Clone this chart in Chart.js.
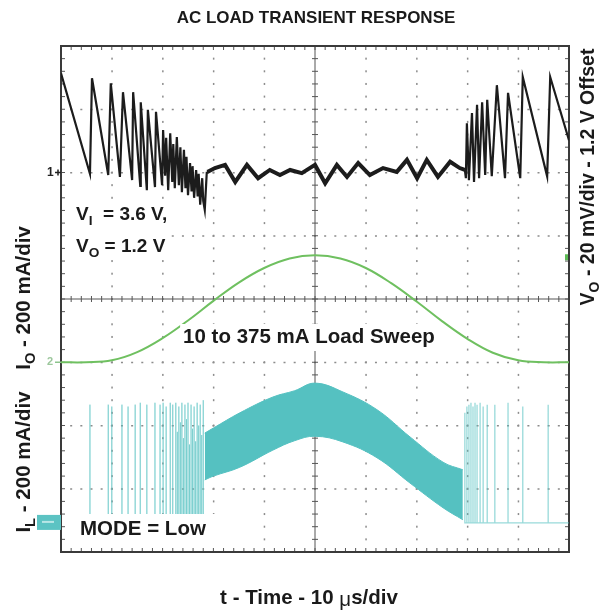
<!DOCTYPE html>
<html>
<head>
<meta charset="utf-8">
<script src="https://cdn.jsdelivr.net/npm/chart.js@4/dist/chart.umd.min.js"></script>
<style>
  body { margin: 0; background: #fff; }
  #caixa { width: 604px; height: 615px; }
</style>
</head>
<body>
<div id="caixa"><canvas id="ac_load_transient"></canvas></div>
<script>
// tudo em divisoes da tela do osciloscopio (10 x 8 div)
const div_x = [0, 1, 2, 3, 4, 5, 6, 7, 8, 9, 10];
const div_y = [0, 1, 2, 3, 4, 5, 6, 7, 8];

// canal 1: VO (preto)
const vo_x = [0, 0.57, 0.61, 0.93, 0.98, 1.16, 1.22, 1.40, 1.42, 1.56, 1.57, 1.69, 1.71, 1.85, 1.87, 1.99,
  2.01, 2.05, 2.07, 2.11, 2.15, 2.19, 2.21, 2.24, 2.28, 2.32, 2.35, 2.38, 2.42, 2.45, 2.47, 2.50, 2.54, 2.57, 2.59,
  2.62, 2.66, 2.69, 2.71, 2.74, 2.78, 2.80, 2.83, 2.87,
  2.89, 3.03, 3.23, 3.43, 3.66, 3.88, 4.11, 4.31, 4.51,
  4.74, 5.0, 5.20, 5.43, 5.63, 5.85, 6.08, 6.34, 6.61, 6.81, 7.01, 7.20, 7.42, 7.66, 7.85, 7.95, 7.97, 7.99, 8.03, 8.09,
  8.13, 8.19, 8.23, 8.29, 8.35, 8.39, 8.48, 8.58, 8.74, 8.80, 9.04, 9.09, 9.57, 9.63, 10];
const vo_y = [7.57, 5.98, 7.49, 5.96, 7.41, 5.93, 7.27, 5.88, 7.27, 5.79, 7.11, 5.72, 6.99, 5.77, 6.96, 5.80,
  6.67, 5.95, 6.55, 5.72, 6.62, 5.85, 6.45, 5.75, 6.56, 5.80, 6.40, 5.69, 6.36, 5.75, 6.25, 5.64, 6.15, 5.70, 6.10,
  5.60, 6.04, 5.62, 5.98, 5.49, 5.91, 5.55, 5.41, 6.01,
  6.01, 6.07, 6.12, 5.85, 6.12, 5.91, 6.04, 5.96, 6.04,
  5.99, 6.12, 5.83, 6.12, 5.93, 6.15, 5.96, 6.07, 6.01, 6.20, 5.91, 6.20, 5.93, 6.17, 6.07, 6.04, 5.91, 6.78, 5.88, 6.94,
  5.85, 7.07, 5.91, 7.11, 5.96, 7.15, 5.94, 7.38, 5.91, 7.26, 5.91, 7.51, 5.94, 7.51, 6.51];
// trecho em PWM (ripple mais grosso no traco)
const vo_pwm_ini = 2.87;
const vo_pwm_fim = 7.95;

// canal 2: IO (verde)
const io_x = [0, 0.5, 1, 1.5, 2, 2.5, 3, 3.5, 4, 4.5, 5, 5.5, 6, 6.5, 7, 7.5, 8, 8.5, 9, 9.5, 10];
const io_y = [3.0, 3.0, 3.03, 3.16, 3.38, 3.66, 3.97, 4.26, 4.49, 4.64, 4.69, 4.64, 4.49, 4.25, 3.96, 3.65, 3.37, 3.15, 3.03, 3.0, 3.0];

// canal 3: IL (ciano) - faixa do PWM e pulsos do PFM
const il_faixa_x = [2.83, 3.0, 3.52, 4.17, 4.6, 5.0, 5.55, 6.22, 6.87, 7.52, 7.91];
const il_faixa_topo = [1.88, 1.96, 2.20, 2.45, 2.55, 2.67, 2.53, 2.25, 1.82, 1.42, 1.30];
const il_faixa_base = [1.14, 1.20, 1.34, 1.61, 1.76, 1.83, 1.74, 1.49, 1.09, 0.70, 0.51];
const il_zero = 0.46;
const il_pulsos_esq_x = [0.57, 0.93, 1.00, 1.20, 1.32, 1.46, 1.56, 1.69, 1.85, 1.95, 2.01, 2.07, 2.15, 2.20, 2.26,
  2.29, 2.32, 2.35, 2.38, 2.41, 2.44, 2.47, 2.50, 2.53, 2.56, 2.59, 2.62, 2.65, 2.68, 2.71, 2.74, 2.77, 2.80];
const il_pulsos_esq_topo = [2.33, 2.33, 2.30, 2.33, 2.30, 2.33, 2.36, 2.33, 2.36, 2.33, 2.36, 2.30, 2.36, 2.33, 2.36,
  1.90, 2.30, 2.05, 2.36, 1.80, 2.33, 2.10, 2.36, 1.70, 2.33, 1.95, 2.30, 1.75, 2.36, 2.00, 2.33, 1.85, 2.40];
const il_pulsos_dir_x = [7.95, 7.99, 8.03, 8.07, 8.11, 8.15, 8.19, 8.25, 8.31, 8.39, 8.54, 8.80, 9.09, 9.59];
const il_pulsos_dir_topo = [2.20, 2.30, 2.33, 2.36, 2.30, 2.36, 2.33, 2.36, 2.30, 2.33, 2.33, 2.36, 2.30, 2.33];
const il_fim_x = 10;

// referencias dos canais (marcadores na borda esquerda)
const ref_vo = 6;
const ref_io = 3;
const nivel_trigger = 4.66;

const fonte = '"Liberation Sans", Arial, sans-serif';

function junta_xy(xs, ys) {
  var pts = [];
  for (let i = 0; i < xs.length; i++) {
    pts.push({ x: xs[i], y: ys[i] });
  }
  return pts;
}

function monta_pulsos(xs, topos, base) {
  var pts = [];
  for (let i = 0; i < xs.length; i++) {
    pts.push({ x: xs[i], y: base });
    pts.push({ x: xs[i], y: topos[i] });
    pts.push({ x: xs[i], y: base });
  }
  return pts;
}

// texto com subscrito: partes = [[texto, eh_sub], ...]
function escreve(ctx, partes, x, y, tam, alinhar) {
  var largura = 0;
  for (const [t, sub] of partes) {
    ctx.font = 'bold ' + (sub ? tam * 0.72 : tam) + 'px ' + fonte;
    largura += ctx.measureText(t).width;
  }
  var cx = alinhar === 'center' ? x - largura / 2 : x;
  ctx.textAlign = 'left';
  ctx.textBaseline = 'middle';
  for (const [t, sub] of partes) {
    ctx.font = 'bold ' + (sub ? tam * 0.72 : tam) + 'px ' + fonte;
    ctx.fillText(t, cx, sub ? y + tam * 0.32 : y);
    cx += ctx.measureText(t).width;
  }
  return largura;
}

function escreve_vertical(ctx, partes, x, y, tam) {
  ctx.save();
  ctx.translate(x, y);
  ctx.rotate(-Math.PI / 2);
  escreve(ctx, partes, 0, 0, tam, 'center');
  ctx.restore();
}

const grade_osc = {
  id: 'grade_osc',
  beforeDatasetsDraw(chart) {
    const { ctx, chartArea: a, scales: { x, y } } = chart;
    ctx.save();
    // linhas pontilhadas
    ctx.fillStyle = '#8c8c8c';
    for (const d of div_x) {
      if (d === 0 || d === 5 || d === 10) continue;
      const px = x.getPixelForValue(d);
      for (let s = 0; s <= 40; s++) {
        const py = y.getPixelForValue(s * 0.2);
        ctx.fillRect(px - 0.5, py - 1, 1.5, 2);
      }
    }
    for (const d of div_y) {
      if (d === 0 || d === 4 || d === 8) continue;
      const py = y.getPixelForValue(d);
      for (let s = 0; s <= 50; s++) {
        const px = x.getPixelForValue(s * 0.2);
        ctx.fillRect(px - 1, py - 0.5, 2, 1.5);
      }
    }
    // eixos centrais com marcas
    const cx = x.getPixelForValue(5);
    const cy = y.getPixelForValue(4);
    ctx.strokeStyle = '#555';
    ctx.lineWidth = 1;
    ctx.beginPath();
    ctx.moveTo(cx, a.top); ctx.lineTo(cx, a.bottom);
    ctx.moveTo(a.left, cy); ctx.lineTo(a.right, cy);
    for (let s = 0; s <= 40; s++) {
      const py = y.getPixelForValue(s * 0.2);
      ctx.moveTo(cx - 3, py); ctx.lineTo(cx + 3, py);
    }
    for (let s = 0; s <= 50; s++) {
      const px = x.getPixelForValue(s * 0.2);
      ctx.moveTo(px, cy - 3); ctx.lineTo(px, cy + 3);
    }
    // marcas da borda
    for (let s = 0; s <= 50; s++) {
      const px = x.getPixelForValue(s * 0.2);
      ctx.moveTo(px, a.top); ctx.lineTo(px, a.top + 4);
      ctx.moveTo(px, a.bottom); ctx.lineTo(px, a.bottom - 4);
    }
    for (let s = 0; s <= 40; s++) {
      const py = y.getPixelForValue(s * 0.2);
      ctx.moveTo(a.left, py); ctx.lineTo(a.left + 4, py);
      ctx.moveTo(a.right, py); ctx.lineTo(a.right - 4, py);
    }
    ctx.stroke();
    ctx.strokeStyle = '#3a3a3a';
    ctx.lineWidth = 2;
    ctx.strokeRect(a.left, a.top, a.right - a.left, a.bottom - a.top);
    ctx.restore();
  }
};

const textos_osc = {
  id: 'textos_osc',
  afterDraw(chart) {
    const { ctx, chartArea: a, scales: { x, y } } = chart;
    ctx.save();
    // marcadores de referencia
    ctx.fillStyle = '#222';
    ctx.strokeStyle = '#222';
    ctx.lineWidth = 1.5;
    var py = y.getPixelForValue(ref_vo);
    escreve(ctx, [['1', 0]], a.left - 14, py, 12);
    ctx.beginPath();
    ctx.moveTo(a.left - 6, py); ctx.lineTo(a.left, py);
    ctx.moveTo(a.left - 3, py - 3); ctx.lineTo(a.left - 3, py + 3);
    ctx.stroke();

    py = y.getPixelForValue(ref_io);
    ctx.fillStyle = '#9cc79c';
    ctx.strokeStyle = '#8cc48c';
    escreve(ctx, [['2', 0]], a.left - 14, py, 11);
    ctx.beginPath();
    ctx.moveTo(a.left - 6, py); ctx.lineTo(a.left, py);
    ctx.stroke();

    py = y.getPixelForValue(il_zero);
    ctx.fillStyle = '#5cc3c3';
    ctx.fillRect(a.left - 24, py - 8, 24, 15);
    ctx.fillStyle = '#b9e6e6';
    ctx.fillRect(a.left - 19, py - 2, 12, 2);

    // nivel do trigger na borda direita
    ctx.fillStyle = '#5dbb55';
    ctx.fillRect(a.right - 4, y.getPixelForValue(nivel_trigger) - 3, 3, 6);

    // titulo e eixos
    ctx.fillStyle = '#1a1a1a';
    escreve(ctx, [['AC LOAD TRANSIENT RESPONSE', 0]], 316, 18, 17, 'center');
    var w1 = escreve(ctx, [['t - Time - 10 ', 0]], -1000, -1000, 20.5);
    ctx.font = '20.5px ' + fonte;
    var wmu = ctx.measureText('\u03bc').width;
    var w2 = escreve(ctx, [['s/div', 0]], -1000, -1000, 20.5);
    var xi = 309 - (w1 + wmu + w2) / 2;
    escreve(ctx, [['t - Time - 10 ', 0]], xi, 598, 20.5);
    ctx.font = '20.5px ' + fonte;
    ctx.fillText('\u03bc', xi + w1, 600);
    escreve(ctx, [['s/div', 0]], xi + w1 + wmu, 598, 20.5);

    escreve_vertical(ctx, [['I', 0], ['L', 1], [' - 200 mA/div', 0]], 24, 462, 20.5);
    escreve_vertical(ctx, [['I', 0], ['O', 1], [' - 200 mA/div', 0]], 24, 298, 20.5);
    escreve_vertical(ctx, [['V', 0], ['O', 1], [' - 20 mV/div - 1.2 V Offset', 0]], 589, 177, 19.5);

    // anotacoes dentro da tela
    ctx.fillStyle = '#fff';
    ctx.fillRect(a.left + 8, 203, 100, 56);
    ctx.fillStyle = '#1a1a1a';
    escreve(ctx, [['V', 0], ['I', 1], ['  = 3.6 V,', 0]], 76, 215, 19);
    escreve(ctx, [['V', 0], ['O', 1], [' = 1.2 V', 0]], 76, 247, 19);

    ctx.font = 'bold 20.5px ' + fonte;
    var wl = ctx.measureText('10 to 375 mA Load Sweep').width;
    ctx.fillStyle = '#fff';
    ctx.fillRect(309 - wl / 2 - 3, 324, wl + 6, 27);
    ctx.fillStyle = '#1a1a1a';
    escreve(ctx, [['10 to 375 mA Load Sweep', 0]], 309, 337, 20.5, 'center');

    ctx.fillStyle = '#fff';
    ctx.fillRect(a.left + 5, 514, 150, 29);
    ctx.fillStyle = '#1a1a1a';
    escreve(ctx, [['MODE = Low', 0]], 80, 529, 20.5);
    ctx.restore();
  }
};

const ctx = document.getElementById('ac_load_transient').getContext('2d');
const ciano = '#55c1c1';
var pulsos_dir = monta_pulsos(il_pulsos_dir_x, il_pulsos_dir_topo, il_zero);
pulsos_dir.push({ x: il_fim_x, y: il_zero });

const grafico = new Chart(ctx, {
  type: 'line',
  data: {
    datasets: [
      {
        label: 'IL base',
        data: junta_xy(il_faixa_x, il_faixa_base),
        borderColor: ciano,
        borderWidth: 1,
        pointRadius: 0,
        tension: 0.4,
        fill: false,
      },
      {
        label: 'IL topo',
        data: junta_xy(il_faixa_x, il_faixa_topo),
        borderColor: ciano,
        backgroundColor: ciano,
        borderWidth: 1,
        pointRadius: 0,
        tension: 0.4,
        fill: '-1',
      },
      {
        label: 'IL pulsos esq',
        data: monta_pulsos(il_pulsos_esq_x, il_pulsos_esq_topo, il_zero),
        borderColor: 'rgba(85,193,193,0.55)',
        borderWidth: 1,
        pointRadius: 0,
        tension: 0,
      },
      {
        label: 'IL pulsos dir',
        data: pulsos_dir,
        borderColor: 'rgba(85,193,193,0.6)',
        borderWidth: 1.3,
        pointRadius: 0,
        tension: 0,
      },
      {
        label: 'IO',
        data: junta_xy(io_x, io_y),
        borderColor: '#6fc060',
        borderWidth: 2,
        pointRadius: 0,
        tension: 0.4,
      },
      {
        label: 'VO',
        data: junta_xy(vo_x, vo_y),
        borderColor: '#1c1c1c',
        borderWidth: 2.2,
        pointRadius: 0,
        tension: 0,
        segment: {
          borderWidth: function (c) {
            return c.p0.parsed.x >= vo_pwm_ini && c.p1.parsed.x <= vo_pwm_fim ? 4 : 2.2;
          },
        },
      },
    ],
  },
  options: {
    responsive: true,
    maintainAspectRatio: false,
    animation: false,
    layout: { padding: { left: 61, right: 35, top: 46, bottom: 63 } },
    plugins: { legend: { display: false }, tooltip: { enabled: false } },
    scales: {
      x: { type: 'linear', min: 0, max: 10, display: false },
      y: { type: 'linear', min: 0, max: 8, display: false },
    },
  },
  plugins: [grade_osc, textos_osc],
});
</script>
</body>
</html>
